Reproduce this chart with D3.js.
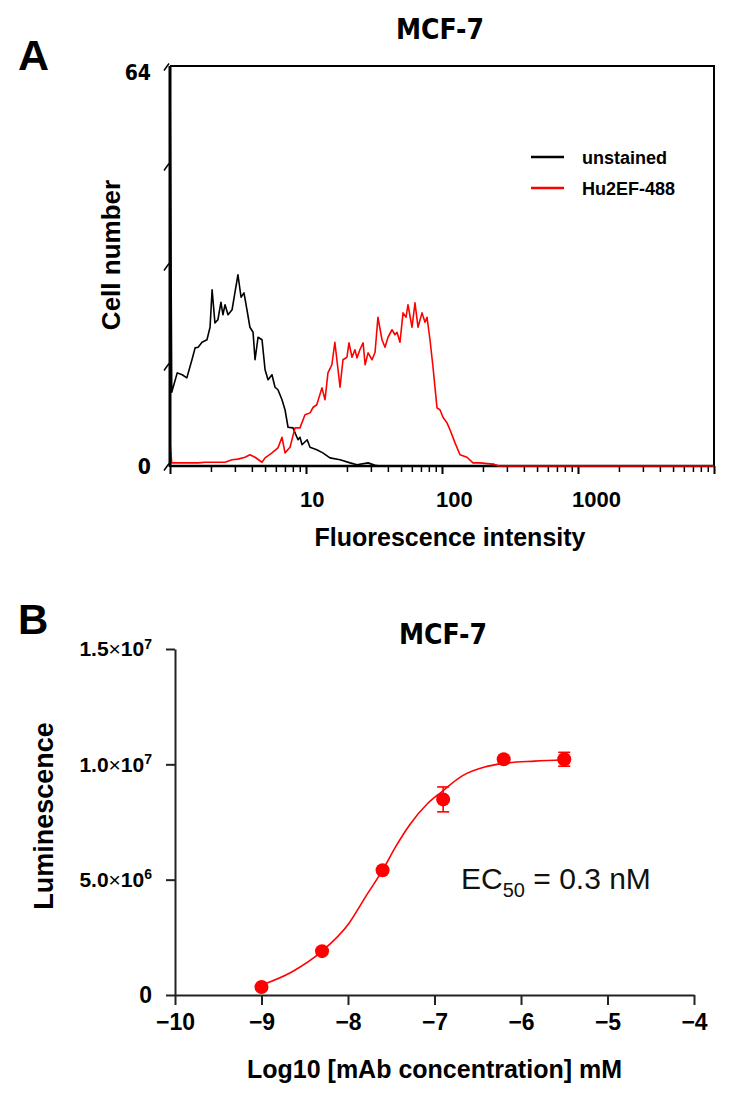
<!DOCTYPE html>
<html>
<head>
<meta charset="utf-8">
<script src="https://cdn.jsdelivr.net/npm/d3@7"></script>
<style>
body { margin: 0; background: #fff; }
text { font-family: "Liberation Sans", Arial, sans-serif; }
.narrow { font-family: "Liberation Sans Narrow", "Arial Narrow", "DejaVu Sans Condensed", sans-serif; }
</style>
</head>
<body>
<div id="chart"></div>
<script>
// Panel A: flow cytometry histograms, [fluorescence intensity, cell number]
const unstained = [
    [1.0, 64], [1.03, 11.8], [1.13, 14.9], [1.23, 14.6], [1.33, 14.1], [1.45, 17.0], [1.53, 18.9],
    [1.61, 19.0], [1.72, 19.8], [1.87, 20.2], [1.97, 22.2], [2.04, 28.2], [2.14, 22.9], [2.25, 23.4],
    [2.37, 26.2], [2.45, 24.2], [2.54, 25.8], [2.67, 24.2], [2.86, 25.0], [3.00, 27.7], [3.16, 30.6],
    [3.33, 27.0], [3.50, 27.7], [3.68, 25.0], [3.87, 22.2], [4.08, 21.4], [4.22, 17.0], [4.44, 20.6],
    [4.75, 20.2], [5.00, 15.4], [5.26, 13.8], [5.62, 14.6], [5.92, 12.6], [6.22, 12.2], [6.66, 10.6],
    [7.01, 9.0], [7.38, 6.2], [8.02, 6.1], [8.73, 4.2], [9.03, 4.6], [9.35, 3.4], [10.2, 4.2],
    [10.7, 3.0], [12.0, 2.6], [13.3, 2.1], [15.0, 1.3], [17.8, 1.0], [21.1, 0.5], [23.7, 0.2],
    [28.6, 0.5], [32.2, 0.1], [35, 0], [10000, 0]
];
const hu2ef488 = [
    [1.0, 3.8], [1.03, 0.5], [1.23, 0.5], [1.61, 0.5], [1.81, 0.6], [2.54, 0.6], [2.86, 1.0],
    [3.16, 1.1], [3.56, 1.4], [3.87, 1.8], [4.22, 1.4], [4.75, 0.6], [5.00, 1.3], [5.62, 2.1],
    [6.22, 2.9], [6.66, 4.6], [7.01, 2.1], [7.63, 3.0], [8.30, 6.1], [9.03, 6.1], [9.83, 8.2],
    [10.7, 8.5], [11.3, 9.4], [12.0, 9.8], [13.1, 12.5], [13.8, 10.6], [14.5, 14.9], [15.5, 16.2],
    [16.3, 19.8], [17.2, 15.4], [17.8, 12.6], [18.7, 17.0], [20.0, 17.4], [20.7, 19.7], [21.8, 17.4],
    [22.9, 18.6], [23.7, 17.3], [24.9, 18.6], [26.3, 19.7], [27.2, 16.2], [28.6, 18.1], [30.6, 17.0],
    [32.2, 18.2], [33.8, 23.8], [36.2, 20.2], [38.1, 19.0], [40.1, 20.6], [42.9, 21.8], [45.1, 21.0],
    [46.7, 21.4], [49.1, 19.8], [51.7, 24.5], [54.4, 23.8], [56.2, 25.8], [60.2, 22.2], [63.3, 26.1],
    [66.6, 22.2], [71.3, 24.5], [75.0, 23.0], [77.6, 23.8], [81.6, 20.2], [85.9, 15.8], [91.9, 9.3],
    [96.6, 9.0], [101.7, 7.8], [108.8, 6.9], [114.5, 5.8], [124.7, 3.7], [135.6, 1.8], [152.7, 1.4],
    [169, 0.5], [190, 0.5], [237, 0.3], [260, 0], [10000, 0]
];
const histSeries = [
    { name: 'unstained', color: '#000000', values: unstained },
    { name: 'Hu2EF-488', color: '#ff0000', values: hu2ef488 }
];
const histXLabels = [10, 100, 1000];
const histYTicks = [0, 16, 32, 48, 64];
const histYLabels = [0, 64];

// Panel B: dose response
const doseLogConc = [-9, -8.3, -7.6, -6.9, -6.2, -5.5];
const doseLum = [0.35e6, 1.9e6, 5.41e6, 8.48e6, 10.22e6, 10.22e6];
const doseErr = [0, 0, 0, 0.54e6, 0, 0.3e6];
const fitLogConc = [-9, -8.65, -8.3, -7.99, -7.785, -7.6, -7.45, -7.29, -7.08, -6.92, -6.67, -6.42, -6.22, -5.84, -5.5];
const fitLum = [0.43e6, 1.0e6, 1.9e6, 3.1e6, 4.33e6, 5.41e6, 6.42e6, 7.36e6, 8.3e6, 8.8e6, 9.52e6, 9.88e6, 10.03e6, 10.14e6, 10.2e6];
const doseXTicks = [-10, -9, -8, -7, -6, -5, -4];
const doseYTicks = [0, 5e6, 1e7, 1.5e7];
const doseYLabels = ['0', '5.0×10^6', '1.0×10^7', '1.5×10^7'];

const svg = d3.select('#chart')
    .append('svg')
    .attr('width', 731)
    .attr('height', 1097);

// ---------- Panel A ----------
const boxA = { left: 170, right: 714, top: 66, bottom: 466 };

const xA = d3.scaleLog()
    .domain([1, 10000])
    .range([boxA.left, boxA.right]);

const yA = d3.scaleLinear()
    .domain([0, 64])
    .range([boxA.bottom, boxA.top]);

svg.append('text')
    .attr('x', 18)
    .attr('y', 70)
    .style('font-size', '43px')
    .style('font-weight', 'bold')
    .text('A');

svg.append('text')
    .attr('class', 'narrow')
    .attr('x', 440)
    .attr('y', 39)
    .attr('text-anchor', 'middle')
    .style('font-size', '28px')
    .style('font-weight', 'bold')
    .text('MCF-7');

const minorTicks = [];
[1, 10, 100, 1000].forEach(d => {
    for (let k = 2; k <= 9; k++) minorTicks.push(d * k);
});

svg.append('g')
    .attr('transform', `translate(0, ${boxA.bottom})`)
    .call(d3.axisBottom(xA).tickValues(minorTicks).tickSize(6).tickFormat(''))
    .call(g => g.select('.domain').remove())
    .call(g => g.selectAll('.tick line').attr('stroke-width', 1.5));

svg.append('g')
    .attr('transform', `translate(0, ${boxA.bottom})`)
    .call(d3.axisBottom(xA).tickValues([1, 10, 100, 1000, 10000]).tickSize(8).tickFormat(''))
    .call(g => g.select('.domain').remove())
    .call(g => g.selectAll('.tick line').attr('stroke-width', 2));

svg.append('g')
    .selectAll('text')
    .data(histXLabels)
    .enter()
    .append('text')
    .attr('x', d => xA(d) - 6)
    .attr('y', 507)
    .style('font-size', '22px')
    .style('font-weight', 'bold')
    .text(d => d);

svg.append('g')
    .attr('transform', `translate(${boxA.left}, 0)`)
    .call(d3.axisLeft(yA).tickValues(histYTicks).tickSize(0).tickFormat(''))
    .call(g => g.select('.domain').remove())
    .call(g => g.selectAll('.tick').append('line')
        .attr('x1', -1).attr('y1', -3)
        .attr('x2', -6).attr('y2', 4)
        .attr('stroke', '#000')
        .attr('stroke-width', 1.5));

svg.append('g')
    .selectAll('text')
    .data(histYLabels)
    .enter()
    .append('text')
    .attr('class', 'narrow')
    .attr('x', 151)
    .attr('y', d => yA(d) + (d === 0 ? 8 : 14))
    .attr('text-anchor', 'end')
    .style('font-size', '21px')
    .style('font-weight', 'bold')
    .text(d => d);

svg.append('text')
    .attr('transform', `translate(120, 255) rotate(-90)`)
    .attr('text-anchor', 'middle')
    .style('font-size', '26px')
    .style('font-weight', 'bold')
    .text('Cell number');

svg.append('text')
    .attr('x', 450)
    .attr('y', 546)
    .attr('text-anchor', 'middle')
    .style('font-size', '25px')
    .style('font-weight', 'bold')
    .text('Fluorescence intensity');

const lineA = d3.line()
    .x(d => xA(d[0]))
    .y(d => yA(d[1]));

svg.append('g')
    .selectAll('path')
    .data(histSeries)
    .enter()
    .append('path')
    .attr('d', d => lineA(d.values))
    .attr('fill', 'none')
    .attr('stroke', d => d.color)
    .attr('stroke-width', 1.6)
    .attr('stroke-linejoin', 'round');

// frame
svg.append('path')
    .attr('d', `M${boxA.left},${boxA.top}H${boxA.right}V${boxA.bottom}`)
    .attr('fill', 'none')
    .attr('stroke', '#000')
    .attr('stroke-width', 2);
svg.append('line')
    .attr('x1', boxA.left).attr('x2', boxA.left)
    .attr('y1', boxA.top).attr('y2', boxA.bottom + 1)
    .attr('stroke', '#000')
    .attr('stroke-width', 3);
svg.append('line')
    .attr('x1', boxA.left).attr('x2', boxA.right)
    .attr('y1', boxA.bottom).attr('y2', boxA.bottom)
    .attr('stroke', '#000')
    .attr('stroke-width', 2.5);
// red trace runs along the baseline on top of the axis
svg.append('path')
    .attr('d', lineA(hu2ef488.filter(d => d[0] >= 237)))
    .attr('fill', 'none')
    .attr('stroke', '#ff0000')
    .attr('stroke-width', 1.6);

// legend
const legend = svg.append('g')
    .selectAll('g')
    .data(histSeries)
    .enter()
    .append('g')
    .attr('transform', (d, i) => `translate(531, ${157 + i * 31})`);
legend.append('line')
    .attr('x1', 0).attr('x2', 33)
    .attr('stroke', d => d.color)
    .attr('stroke-width', 2.5);
legend.append('text')
    .attr('x', 51)
    .attr('y', 7)
    .style('font-size', '18px')
    .style('font-weight', 'bold')
    .text(d => d.name);

// ---------- Panel B ----------
const boxB = { left: 175, right: 694, top: 649, bottom: 995 };
const red = '#ff0000';

const xB = d3.scaleLinear()
    .domain([-10, -4])
    .range([boxB.left, boxB.right]);

const yB = d3.scaleLinear()
    .domain([0, 1.5e7])
    .range([boxB.bottom, boxB.top]);

svg.append('text')
    .attr('x', 18)
    .attr('y', 634)
    .style('font-size', '42px')
    .style('font-weight', 'bold')
    .text('B');

svg.append('text')
    .attr('class', 'narrow')
    .attr('x', 443)
    .attr('y', 644)
    .attr('text-anchor', 'middle')
    .style('font-size', '28px')
    .style('font-weight', 'bold')
    .text('MCF-7');

svg.append('g')
    .attr('transform', `translate(0, ${boxB.bottom})`)
    .call(d3.axisBottom(xB)
        .tickValues(doseXTicks)
        .tickSize(10)
        .tickSizeOuter(0)
        .tickPadding(9)
        .tickFormat(d => d3.format('')(d).replace('-', '−')))
    .call(g => g.selectAll('path, line').attr('stroke', '#222').attr('stroke-width', 2))
    .call(g => g.selectAll('text')
        .style('font-size', '23px')
        .style('font-weight', 'bold')
        .attr('fill', '#000')
        .attr('font-family', null));

const yAxisB = svg.append('g')
    .attr('transform', `translate(${boxB.left}, 0)`)
    .call(d3.axisLeft(yB)
        .tickValues(doseYTicks)
        .tickSize(9)
        .tickSizeOuter(0)
        .tickPadding(14))
    .call(g => g.selectAll('path, line').attr('stroke', '#222').attr('stroke-width', 2));

yAxisB.selectAll('.tick text')
    .data(doseYLabels)
    .text(null)
    .attr('fill', '#000')
    .attr('font-family', null)
    .style('font-size', '21px')
    .style('font-weight', 'bold')
    .each(function (label) {
        const parts = label.split('^');
        const t = d3.select(this);
        if (parts.length === 1) {
            t.style('font-size', '23px').text(label);
            return;
        }
        const [mant, base] = parts[0].split('×');
        t.append('tspan').text(mant);
        t.append('tspan').style('font-weight', 'normal').text('×');
        t.append('tspan').text(base);
        t.append('tspan')
            .attr('dy', '-0.55em')
            .style('font-size', '14px')
            .text(parts[1]);
    });

svg.append('text')
    .attr('transform', `translate(53, 816) rotate(-90)`)
    .attr('text-anchor', 'middle')
    .style('font-size', '27px')
    .style('font-weight', 'bold')
    .text('Luminescence');

svg.append('text')
    .attr('x', (boxB.left + boxB.right) / 2)
    .attr('y', 1078)
    .attr('text-anchor', 'middle')
    .style('font-size', '25px')
    .style('font-weight', 'bold')
    .text('Log10 [mAb concentration] mM');

const ec = svg.append('text')
    .attr('x', 461)
    .attr('y', 889)
    .style('font-size', '30px')
    .attr('fill', '#111');
ec.append('tspan').text('EC');
ec.append('tspan').attr('dy', 8).style('font-size', '20px').text('50');
ec.append('tspan').attr('dy', -8).text(' = 0.3 nM');

const fitLine = d3.line()
    .x(d => xB(d[0]))
    .y(d => yB(d[1]))
    .curve(d3.curveMonotoneX);

svg.append('path')
    .attr('d', fitLine(d3.zip(fitLogConc, fitLum)))
    .attr('fill', 'none')
    .attr('stroke', red)
    .attr('stroke-width', 1.6);

const points = d3.zip(doseLogConc, doseLum, doseErr);

const errG = svg.append('g')
    .selectAll('g')
    .data(points.filter(d => d[2] > 0))
    .enter()
    .append('g')
    .attr('stroke', red)
    .attr('stroke-width', 1.6);
errG.append('line')
    .attr('x1', d => xB(d[0])).attr('x2', d => xB(d[0]))
    .attr('y1', d => yB(d[1] - d[2])).attr('y2', d => yB(d[1] + d[2]));
errG.append('line')
    .attr('x1', d => xB(d[0]) - 6).attr('x2', d => xB(d[0]) + 6)
    .attr('y1', d => yB(d[1] - d[2])).attr('y2', d => yB(d[1] - d[2]));
errG.append('line')
    .attr('x1', d => xB(d[0]) - 6).attr('x2', d => xB(d[0]) + 6)
    .attr('y1', d => yB(d[1] + d[2])).attr('y2', d => yB(d[1] + d[2]));

svg.append('g')
    .selectAll('circle')
    .data(points)
    .enter()
    .append('circle')
    .attr('cx', d => xB(d[0]))
    .attr('cy', d => yB(d[1]))
    .attr('r', 7)
    .attr('fill', red);
</script>
</body>
</html>
